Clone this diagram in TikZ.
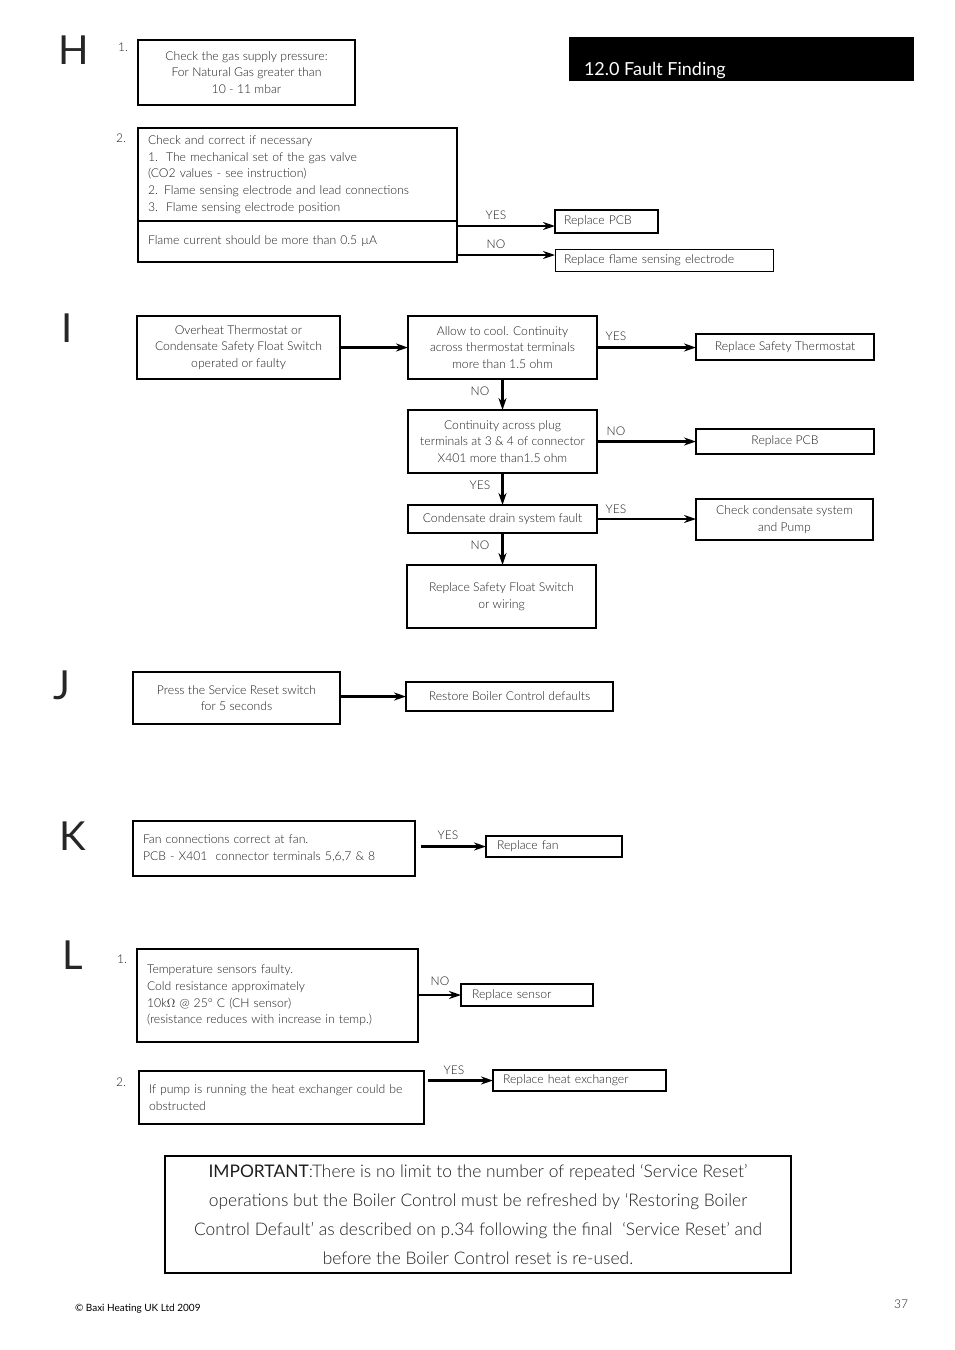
\documentclass[tikz,border=0pt]{standalone}
\usepackage{fontspec}
\setmainfont{Lato Light}
\newfontfamily\latoreg{Lato}
\usetikzlibrary{arrows.meta}
\definecolor{tx}{HTML}{1E1E1E}
\begin{document}
\begin{tikzpicture}[x=1pt,y=-1pt,
  every node/.style={text=tx, font=\fontsize{12.2}{16.7}\selectfont, inner sep=0pt, outer sep=0pt},
  box/.style={draw=black, line width=1.8pt, anchor=north west, align=center},
  lbox/.style={draw=black, line width=1.8pt, anchor=north west, align=left, inner xsep=10pt},
  arr/.style={line width=2.6pt, -{Stealth[length=12pt,width=8pt]}},
  lbl/.style={font=\fontsize{12}{13}\selectfont},
  big/.style={font=\latoreg\fontsize{40}{40}\selectfont, text=black!85},
]
\useasboundingbox (0,0) rectangle (954,1350);

% title bar
\node[fill=black, anchor=north west, minimum width=345, minimum height=44] (title) at (569,37) {};
\node[anchor=base west, text=white, font=\latoreg\fontsize{18}{20}\selectfont] (titletxt) at (584,75) {12.0 Fault Finding};

% section letters
\node[big] (H) at (74,50) {H};
\node[big] (I) at (67,328) {I};
\node[big] (J) at (62,685) {J};
\node[big] (K) at (73,836) {K};
\node[big] (L) at (73,955) {L};

% ---------- H ----------
\node[lbl] (h1n) at (123,47) {1.};
\node[box, minimum width=217, minimum height=65] (h1) at (138,40) {Check the gas supply pressure:\\For Natural Gas greater than\\10 - 11 mbar};
\node[lbl] (h2n) at (121,138) {2.};
\node[lbox, text width=299, minimum height=93] (h2a) at (138,128) {Check and correct if necessary\\1.\ \ The mechanical set of the gas valve\\(CO2 values - see instruction)\\2. Flame sensing electrode and lead connections\\3.\ \ Flame sensing electrode position};
\node[lbox, text width=299, minimum height=41] (h2b) at (138,221) {Flame current should be more than 0.5 µA};
\node[lbox, inner xsep=9pt, text width=85, minimum height=23] (pcb1) at (555,210) {Replace PCB};
\node[lbox, line width=1pt, inner xsep=9pt, text width=200, minimum height=22] (flame) at (555,249) {Replace flame sensing electrode};
\draw[arr] (h2b.east |- 0,226) -- (pcb1.west |- 0,226);
\draw[arr] (h2b.east |- 0,255) -- (flame.west |- 0,255);
\node[lbl] (hy) at (496,215) {YES};
\node[lbl] (hn) at (496,244) {NO};

% ---------- I ----------
\node[box, minimum width=203, minimum height=63] (i1) at (137,316) {Overheat Thermostat or\\Condensate Safety Float Switch\\operated or faulty};
\node[box, minimum width=189, minimum height=63] (i2) at (408,316) {Allow to cool. Continuity\\across thermostat terminals\\more than 1.5 ohm};
\node[box, minimum width=178, minimum height=26] (rst) at (696,334) {Replace Safety Thermostat};
\node[box, minimum width=189, minimum height=63] (i3) at (408,410) {Continuity across plug\\terminals at 3 \& 4 of connector\\X401 more than1.5 ohm};
\node[box, minimum width=178, minimum height=25] (pcb2) at (696,429) {Replace PCB};
\node[box, minimum width=189, minimum height=28] (i4) at (408,505) {Condensate drain system fault};
\node[box, minimum width=177, minimum height=41] (ccs) at (696,499) {Check condensate system\\and Pump};
\node[box, minimum width=189, minimum height=63] (i5) at (407,565) {Replace Safety Float Switch\\or wiring};
\draw[arr] (i1.east) -- (i2.west);
\draw[arr] (i2.east) -- (rst.west |- i2.east);
\draw[arr] (i2.south) -- (i3.north);
\draw[arr] (i3.east) -- (pcb2.west |- i3.east);
\draw[arr] (i3.south) -- (i4.north);
\draw[arr] (i4.east) -- (ccs.west |- i4.east);
\draw[arr] (i4.south) -- (i4.south |- i5.north);
\node[lbl] (iy1) at (616,336) {YES};
\node[lbl] (in1) at (480,391) {NO};
\node[lbl] (in2) at (616,431) {NO};
\node[lbl] (iy2) at (480,485) {YES};
\node[lbl] (iy3) at (616,509) {YES};
\node[lbl] (in3) at (480,545) {NO};

% ---------- J ----------
\node[box, minimum width=207, minimum height=52] (j1) at (133,672) {Press the Service Reset switch\\for 5 seconds};
\node[box, minimum width=207, minimum height=29] (j2) at (406,682) {Restore Boiler Control defaults};
\draw[arr] (j1.east |- j2.west) -- (j2.west);

% ---------- K ----------
\node[lbox, text width=262, minimum height=55] (k1) at (133,821) {Fan connections correct at fan.\\PCB - X401\ \ connector terminals 5,6,7 \& 8};
\node[lbox, inner xsep=11pt, text width=114, minimum height=21] (fan) at (486,836) {Replace fan};
\draw[arr] ([xshift=6pt]k1.east |- fan.west) -- (fan.west);
\node[lbl] (ky) at (448,835) {YES};

% ---------- L ----------
\node[lbl] (l1n) at (122,959) {1.};
\node[lbox, text width=261, minimum height=93] (l1) at (137,949) {Temperature sensors faulty.\\Cold resistance approximately\\10k$\Omega$ @ 25° C (CH sensor)\\(resistance reduces with increase in temp.)};
\node[lbox, inner xsep=11pt, text width=110, minimum height=22] (sens) at (461,984) {Replace sensor};
\draw[arr] (l1.east |- sens.west) -- (sens.west);
\node[lbl] (ln) at (440,981) {NO};
\node[lbl] (l2n) at (121,1082) {2.};
\node[lbox, text width=265, minimum height=53] (l2) at (139,1071) {If pump is running the heat exchanger could be\\obstructed};
\node[lbox, text width=153, minimum height=21] (hx) at (493,1070) {Replace heat exchanger};
\draw[arr] ([xshift=4pt]l2.east |- hx.west) -- (hx.west);
\node[lbl] (ly) at (454,1070) {YES};

% ---------- IMPORTANT ----------
\node[box, line width=1.5pt, minimum width=626, minimum height=117, font=\fontsize{17.4}{29}\selectfont] (imp) at (165,1156) {{\latoreg IMPORTANT}:There is no limit to the number of repeated ‘Service Reset’\\operations but the Boiler Control must be refreshed by ‘Restoring Boiler\\Control Default’ as described on p.34 following the final\ \ ‘Service Reset’ and\\before the Boiler Control reset is re-used.};

% footer
\node[anchor=west, text=black, font=\latoreg\fontsize{10}{12}\selectfont] (copy) at (75,1309) {© Baxi Heating UK Ltd 2009};
\node[font=\fontsize{12}{14}\selectfont] (page) at (901,1304) {37};
\end{tikzpicture}
\end{document}
